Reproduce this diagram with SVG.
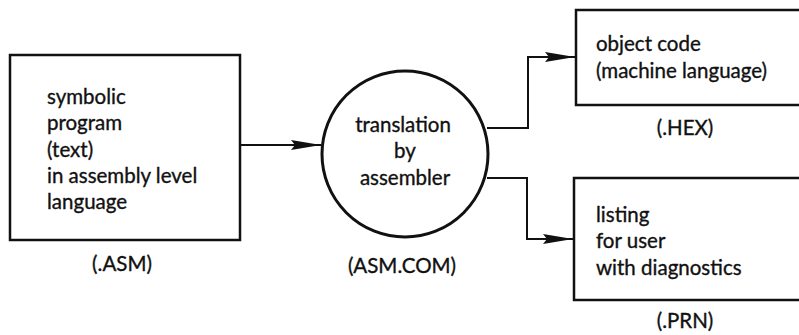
<svg xmlns="http://www.w3.org/2000/svg" width="799" height="335" viewBox="0 0 799 335">
<defs>
<style>
text{font-family:"Century Gothic","URW Gothic","Lato","Noto Sans",sans-serif;font-size:20.5px;fill:#111;stroke:#111;stroke-width:0.35}
.c{text-anchor:middle}
.box{fill:#fff;stroke:#111;stroke-width:2.5}
.conn{fill:none;stroke:#111;stroke-width:2}
</style>
<marker id="ah" viewBox="0 0 30 12" refX="30" refY="6" markerWidth="30" markerHeight="12" markerUnits="userSpaceOnUse" orient="auto">
<path d="M0,1 L30,6 L0,11 L4,6 Z" fill="#111"/>
</marker>
</defs>
<g id="connectors">
<path class="conn" d="M240,145 H321" marker-end="url(#ah)"/>
<path class="conn" d="M487,128 H528 V57 H575" marker-end="url(#ah)"/>
<path class="conn" d="M487,178 H527 V239 H573" marker-end="url(#ah)"/>
</g>
<g id="source">
<rect class="box" x="10" y="55" width="230" height="185"/>
<text x="47" y="104">symbolic</text>
<text x="47" y="130">program</text>
<text x="47" y="157">(text)</text>
<text x="47" y="183">in assembly level</text>
<text x="47" y="209">language</text>
<text class="c" x="122" y="271">(.ASM)</text>
</g>
<g id="assembler">
<circle cx="405" cy="154" r="83" fill="#fff" stroke="#111" stroke-width="3"/>
<text class="c" x="403" y="132">translation</text>
<text class="c" x="405" y="158">by</text>
<text class="c" x="405" y="185">assembler</text>
<text class="c" x="402" y="273">(ASM.COM)</text>
</g>
<g id="object">
<rect class="box" x="576" y="10" width="240" height="95"/>
<text x="596" y="51">object code</text>
<text x="596" y="78">(machine language)</text>
<text class="c" x="685" y="135">(.HEX)</text>
</g>
<g id="listing">
<rect class="box" x="574" y="178" width="240" height="122"/>
<text x="596" y="222">listing</text>
<text x="596" y="248">for user</text>
<text x="596" y="275">with diagnostics</text>
<text class="c" x="685" y="328">(.PRN)</text>
</g>
</svg>
